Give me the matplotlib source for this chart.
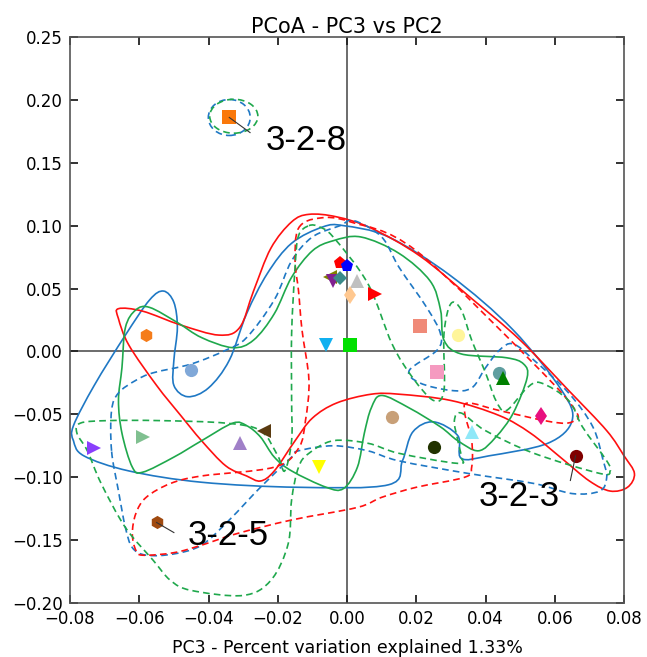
import numpy as np
import matplotlib
matplotlib.use("Agg")
import matplotlib.pyplot as plt
from matplotlib.path import Path
from matplotlib.patches import PathPatch, Ellipse

# sample points (PC3, PC2)
pt_x = [-0.034, -0.058, -0.045, -0.073, -0.059, -0.031, -0.024, -0.008, -0.055,
        -0.006, 0.001, -0.002, 0.000, -0.005, -0.004, -0.002, 0.003, 0.001, 0.008,
        0.021, 0.032, 0.026, 0.044, 0.045, 0.013, 0.025, 0.036, 0.056, 0.066]
pt_y = [0.186, 0.013, -0.015, -0.077, -0.068, -0.073, -0.063, -0.092, -0.136,
        0.005, 0.005, 0.070, 0.068, 0.059, 0.056, 0.058, 0.056, 0.045, 0.046,
        0.020, 0.013, -0.016, -0.017, -0.021, -0.052, -0.076, -0.064, -0.051, -0.083]
pt_marker = ['s', 'h', 'o', '>', '>', '^', '<', 'v', 'h',
             'v', 's', 'p', 'p', '<', 'v', 'D', '^', 'd', '>',
             's', 'o', 's', 'o', '^', 'o', 'o', '^', 'd', 'o']
pt_color = ['#fa780a', '#f57c1a', '#80a8d8', '#8a3ffc', '#80c090', '#a080c8', '#5a3a10', '#ffff00', '#a04a10',
            '#10b0f0', '#00e000', '#ff0000', '#0000ff', '#808000', '#802090', '#3a8a8a', '#c0c0c0', '#ffc890', '#ff0000',
            '#f08a78', '#fff59a', '#f59ac0', '#5f9ea0', '#008000', '#c8a078', '#223300', '#90e8f8', '#e8107f', '#800000']

# group outline curves (control points of closed smooth curves)
blue_x = [-0.001, 0.012, 0.030, 0.048, 0.062, 0.065, 0.058, 0.041, 0.033, 0.032, 0.025, 0.019,
          0.016, 0.012, -0.014, -0.042, -0.063, -0.076, -0.079, -0.079, -0.073, -0.064, -0.057,
          -0.053, -0.050, -0.049, -0.050, -0.050, -0.046, -0.040, -0.034, -0.029, -0.023, -0.016, -0.007]
blue_y = [0.100, 0.091, 0.060, 0.017, -0.031, -0.055, -0.073, -0.083, -0.085, -0.067, -0.056, -0.064,
          -0.087, -0.106, -0.108, -0.104, -0.095, -0.083, -0.071, -0.059, -0.027, 0.013, 0.041,
          0.048, 0.039, 0.019, -0.007, -0.027, -0.036, -0.029, -0.007, 0.030, 0.062, 0.086, 0.099]

red_x = [-0.066, -0.059, -0.048, -0.037, -0.031, -0.027, -0.022, -0.016, -0.011, -0.003, 0.007,
         0.021, 0.036, 0.050, 0.064, 0.075, 0.080, 0.083, 0.081, 0.076, 0.070, 0.062, 0.053, 0.044,
         0.030, 0.015, 0.007, -0.003, -0.010, -0.015, -0.021, -0.025, -0.029, -0.035, -0.042,
         -0.048, -0.055, -0.063, -0.066]
red_y = [0.034, 0.032, 0.021, 0.013, 0.019, 0.048, 0.082, 0.103, 0.109, 0.107, 0.098,
         0.076, 0.042, 0.009, -0.031, -0.063, -0.083, -0.097, -0.108, -0.111, -0.103, -0.085, -0.065, -0.051,
         -0.039, -0.034, -0.034, -0.041, -0.053, -0.071, -0.095, -0.103, -0.099, -0.091, -0.071,
         -0.051, -0.027, 0.005, 0.026]

green_x = [-0.066, -0.065, -0.064, -0.061, -0.057, -0.049, -0.042, -0.033, -0.027, -0.021, -0.016,
           -0.010, -0.004, 0.004, 0.015, 0.024, 0.027, 0.028, 0.033, 0.046, 0.051, 0.052, 0.048,
           0.043, 0.038, 0.032, 0.027, 0.018, 0.010, 0.007, 0.005, 0.003, -0.001, -0.006, -0.016,
           -0.021, -0.025, -0.029, -0.033, -0.042, -0.050, -0.059, -0.062, -0.065]
green_y = [-0.039, -0.013, 0.019, 0.033, 0.035, 0.023, 0.011, 0.003, 0.009, 0.030, 0.059,
           0.080, 0.088, 0.091, 0.078, 0.056, 0.033, 0.009, -0.002, -0.005, -0.010, -0.021, -0.049,
           -0.068, -0.079, -0.071, -0.060, -0.045, -0.035, -0.045, -0.065, -0.092, -0.109, -0.108, -0.095,
           -0.084, -0.068, -0.059, -0.057, -0.071, -0.084, -0.096, -0.092, -0.065]

blue_d_x = [-0.068, -0.068, -0.066, -0.061, -0.056, -0.045, -0.035, -0.029, -0.021, -0.016, -0.010,
            -0.002, 0.002, 0.010, 0.015, 0.023, 0.027, 0.026, 0.018, 0.021, 0.030, 0.036, 0.040,
            0.044, 0.048, 0.054, 0.064, 0.071, 0.074, 0.075, 0.073, 0.065, 0.054, 0.035, 0.015,
            0.006, -0.004, -0.014, -0.016, -0.025, -0.034, -0.042, -0.050, -0.058, -0.062, -0.064, -0.066]
blue_d_y = [-0.079, -0.047, -0.033, -0.023, -0.017, -0.010, 0.001, 0.011, 0.041, 0.072, 0.091,
            0.100, 0.104, 0.091, 0.067, 0.035, 0.014, 0.001, -0.015, -0.025, -0.031, -0.029, -0.013,
            0.001, 0.006, -0.007, -0.033, -0.060, -0.087, -0.100, -0.111, -0.113, -0.105, -0.097, -0.087,
            -0.079, -0.075, -0.079, -0.084, -0.108, -0.134, -0.154, -0.161, -0.162, -0.156, -0.140, -0.111]

red_d_x = [-0.014, -0.008, 0.001, 0.020, 0.054, 0.066, 0.065, 0.059, 0.044, 0.035, 0.034, 0.036,
           0.036, 0.034, 0.020, 0.010, 0.003, -0.016, -0.032, -0.042, -0.050, -0.059, -0.061, -0.062,
           -0.061, -0.058, -0.051, -0.042, -0.021, -0.014, -0.012, -0.011, -0.013, -0.014, -0.015]
red_d_y = [0.098, 0.106, 0.103, 0.080, -0.010, -0.047, -0.056, -0.056, -0.047, -0.041, -0.049, -0.071,
           -0.092, -0.100, -0.108, -0.116, -0.124, -0.134, -0.145, -0.154, -0.160, -0.162, -0.158, -0.145,
           -0.129, -0.116, -0.105, -0.099, -0.092, -0.077, -0.055, -0.023, 0.017, 0.048, 0.072]

green_d_x = [-0.011, -0.008, -0.004, 0.006, 0.013, 0.019, 0.025, 0.028, 0.028, 0.030, 0.033, 0.036,
             0.040, 0.043, 0.046, 0.052, 0.056, 0.064, 0.068, 0.075, 0.076, 0.073, 0.054, 0.040, 0.033,
             0.031, 0.032, 0.033, 0.032, 0.015, 0.006, -0.004, -0.011, -0.014, -0.016, -0.017, -0.022,
             -0.030, -0.045, -0.051, -0.056, -0.064, -0.071, -0.075, -0.078, -0.077, -0.069, -0.054,
             -0.035, -0.025, -0.020, -0.018, -0.016, -0.016, -0.016, -0.015, -0.014]
green_d_y = [0.100, 0.099, 0.091, 0.054, 0.006, -0.021, -0.039, -0.031, 0.014, 0.038, 0.033, 0.009,
             -0.017, -0.039, -0.047, -0.029, -0.025, -0.039, -0.060, -0.087, -0.095, -0.097, -0.081, -0.063, -0.049,
             -0.055, -0.071, -0.084, -0.089, -0.081, -0.073, -0.071, -0.081, -0.092, -0.118, -0.153, -0.182,
             -0.194, -0.190, -0.182, -0.166, -0.140, -0.105, -0.079, -0.065, -0.057, -0.055, -0.055,
             -0.057, -0.063, -0.083, -0.095, -0.071, -0.039, 0.014, 0.067, 0.092]

# small ellipses round sample 3-2-8: (cx, cy, width, height)
ell_blue = (-0.034, 0.186, 0.0121, 0.0286)
ell_green = (-0.0327, 0.187, 0.0139, 0.027)

# labels: text, point, text anchor, leader end
lab_text = ['3-2-8', '3-2-3', '3-2-5']
lab_pt = [(-0.034, 0.186), (0.066, -0.083), (-0.055, -0.136)]
lab_xy = [(-0.0234, 0.168), (0.0379, -0.115), (-0.046, -0.146)]
lab_end = [(-0.028, 0.174), (0.0645, -0.1026), (-0.050, -0.144)]

BLUE = '#1f78c4'
RED = '#ff1010'
GREEN = '#1fa84c'


def closed_curve(xs, ys):
    P = np.column_stack([xs, ys])
    n = len(P)
    verts = [P[0]]
    codes = [Path.MOVETO]
    for i in range(n):
        p0, p1, p2, p3 = P[i - 1], P[i], P[(i + 1) % n], P[(i + 2) % n]
        verts += [p1 + (p2 - p0) / 6.0, p2 - (p3 - p1) / 6.0, p2]
        codes += [Path.CURVE4] * 3
    return Path(verts, codes)


fig = plt.figure(figsize=(6.47, 6.57), dpi=100)
ax = fig.add_axes([0.1082, 0.0822, 0.8563, 0.8615])

ax.axhline(0, color='#444444', lw=1.1, zorder=1)
ax.axvline(0, color='#444444', lw=1.1, zorder=1)

dash = (0, (4, 2.5))
for xs, ys, c, ls in [(blue_x, blue_y, BLUE, '-'), (red_x, red_y, RED, '-'),
                      (green_x, green_y, GREEN, '-'), (blue_d_x, blue_d_y, BLUE, dash),
                      (red_d_x, red_d_y, RED, dash), (green_d_x, green_d_y, GREEN, dash)]:
    ax.add_patch(PathPatch(closed_curve(xs, ys), fill=False, edgecolor=c,
                           lw=1.2, ls=ls, clip_on=False, zorder=2))

for (cx, cy, w, h), c in [(ell_blue, BLUE), (ell_green, GREEN)]:
    ax.add_patch(Ellipse((cx, cy), w, h, fill=False, edgecolor=c, lw=1.2, ls=dash, zorder=2))

for x, y, m, c in zip(pt_x, pt_y, pt_marker, pt_color):
    ms = 7 if m == 'D' else 9.5
    ax.plot(x, y, marker=m, color=c, ms=ms, mew=0, ls='none', zorder=3)

for t, p, xy, e in zip(lab_text, lab_pt, lab_xy, lab_end):
    ax.plot([p[0], e[0]], [p[1], e[1]], color='#333333', lw=0.8, zorder=4)
    ax.text(xy[0], xy[1], t, fontsize=25, family='Liberation Sans',
            ha='left', va='center', zorder=5)

ax.set_xlim(-0.08, 0.08)
ax.set_ylim(-0.20, 0.25)
ax.set_xticks(np.arange(-0.08, 0.0801, 0.02))
ax.set_yticks(np.arange(-0.20, 0.2501, 0.05))
ax.tick_params(direction='in', length=6, width=1.3, top=True, right=True,
               labelsize=12, color='#222222', pad=5)
for s in ax.spines.values():
    s.set_color('#555555')
    s.set_linewidth(1.2)

ax.set_title('PCoA - PC3 vs PC2', fontsize=15, pad=3)
ax.set_xlabel('PC3 - Percent variation explained 1.33%', fontsize=12.5, labelpad=8)

fig.savefig('out.png', dpi=100)
